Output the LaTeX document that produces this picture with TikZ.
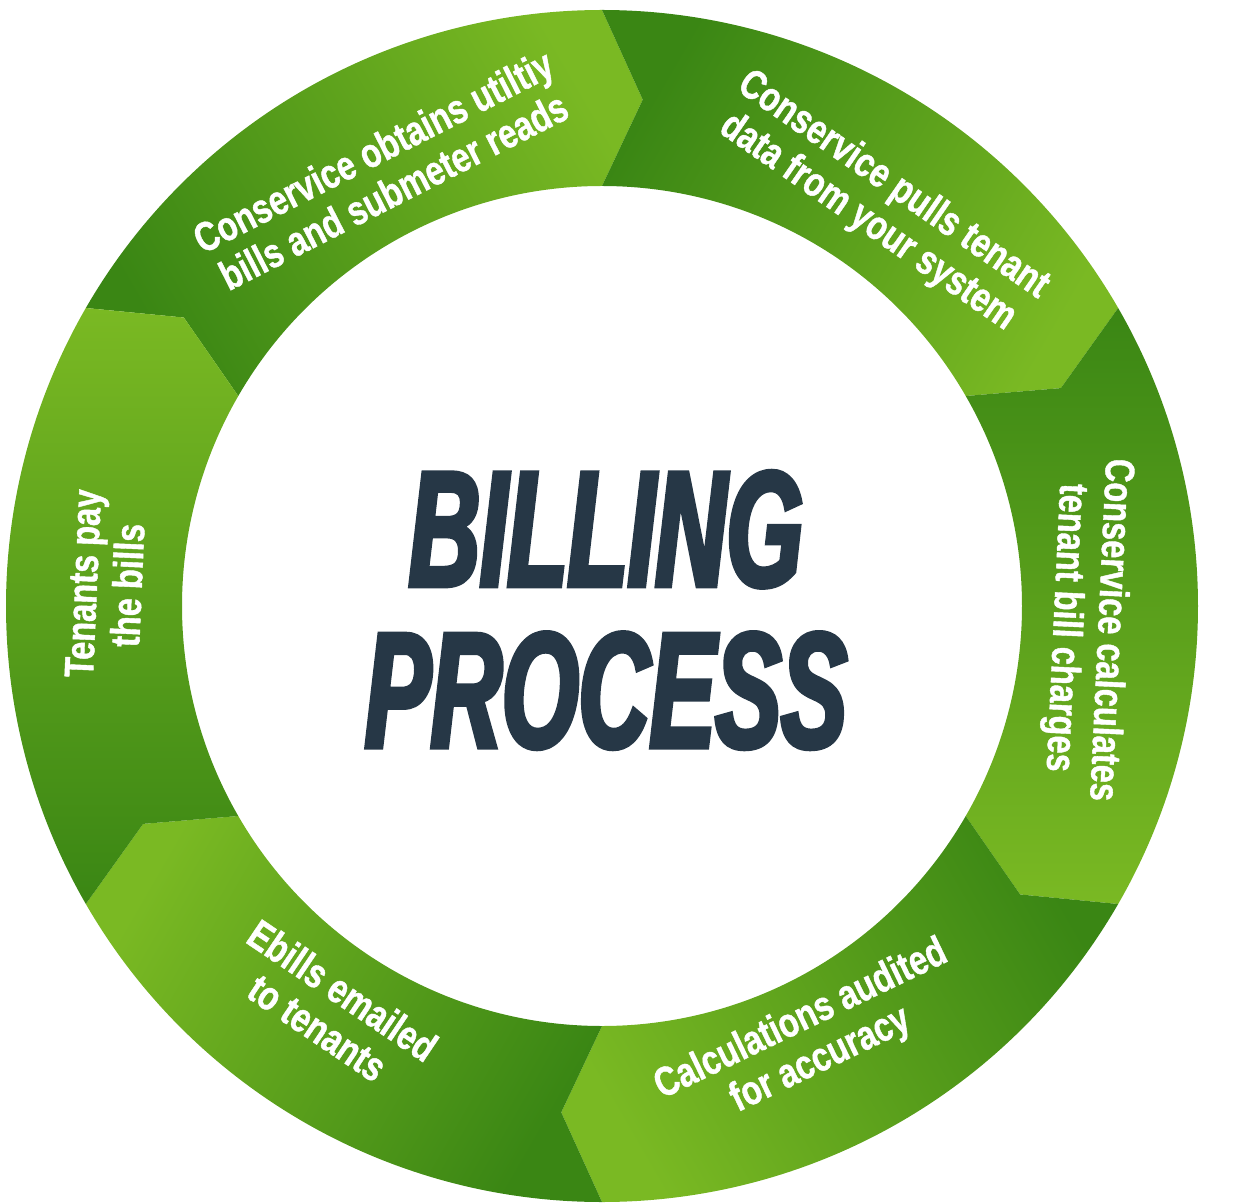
\documentclass[tikz,border=0pt]{standalone}
\usepackage{fontspec}
\usetikzlibrary{calc}
\newfontfamily\segfont[FakeStretch=0.79,FakeBold=1]{Liberation Sans}
\newfontfamily\titlefont[FakeStretch=0.6,FakeBold=3]{Liberation Sans}
\definecolor{ringdark}{RGB}{58,134,20}
\definecolor{ringlight}{RGB}{122,185,35}
\definecolor{titleblue}{RGB}{38,55,70}
\newcommand{\ringouter}{596}
\newcommand{\ringinner}{420}
\newcommand{\ringmid}{508}

\begin{document}
\begin{tikzpicture}[
  x=0.02cm, y=0.02cm,
  seg/.style={top color=ringlight, bottom color=ringdark, shading angle=#1},
  segtext/.style={text=white, font=\segfont\bfseries\fontsize{23.5}{25.5}\selectfont, align=center},
  titletext/.style={text=titleblue, font=\titlefont\bfseries\itshape\fontsize{93.5}{91.8}\selectfont, align=center},
]
  \useasboundingbox (-602,-597) rectangle (637,606);
  \foreach \a in {150,90,...,-150} {
    \pgfmathsetmacro{\b}{\a-60}
    \pgfmathsetmacro{\tipa}{\b-4.6}
    \pgfmathsetmacro{\notcha}{\a-4.6}
    \pgfmathsetmacro{\sa}{\a-210}
    \shade[seg=\sa] (\a:\ringouter) arc[start angle=\a, end angle=\b, radius=\ringouter]
      -- (\tipa:\ringmid) -- (\b:\ringinner) arc[start angle=\b, end angle=\a, radius=\ringinner]
      -- (\notcha:\ringmid) -- cycle;
  }

  \node[segtext, rotate=27] (obtain) at (116.7:487) {Conservice obtains utiltiy\\bills and submeter reads};
  \node[segtext, rotate=-34.7] (pull) at (55.3:489) {Conservice pulls tenant\\data from your system};
  \node[segtext, rotate=-92.7] (calc) at (-2.7:485) {Conservice calculates\\tenant bill charges};
  \node[segtext, rotate=25.7] (audit) at (-64.3:482) {Calculations audited\\for accuracy};
  \node[segtext, rotate=-34] (email) at (-124:486) {Ebills emailed\\to tenants};
  \node[segtext, rotate=87.5] (pay) at (177.5:497) {Tenants pay\\the bills};

  \node[titletext] (title) at (4,-4) {BILLING\\PROCESS};
\end{tikzpicture}
\end{document}
